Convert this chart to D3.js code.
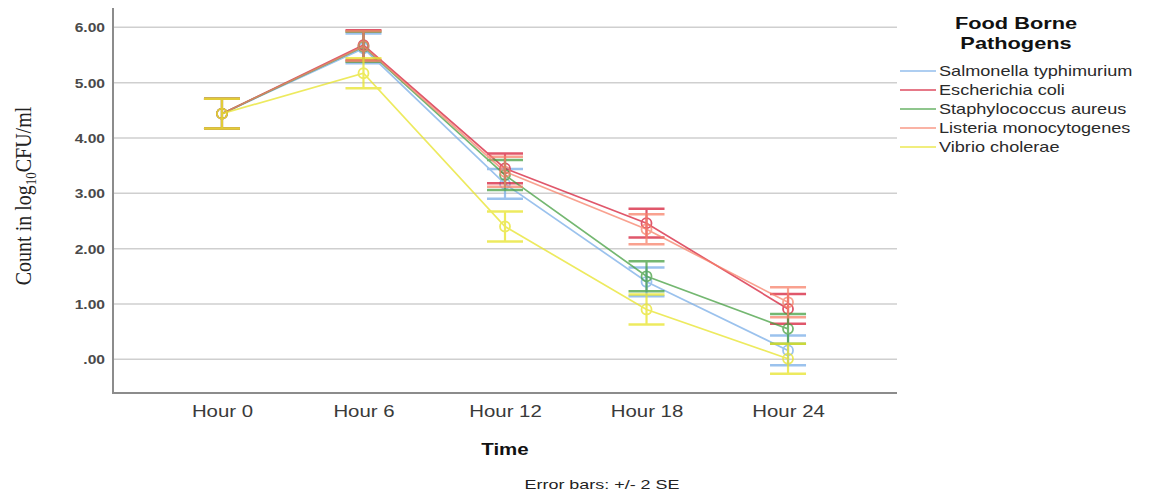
<!DOCTYPE html>
<html>
<head>
<meta charset="utf-8">
<script src="https://cdn.jsdelivr.net/npm/d3@7"></script>
<style>
  html, body { margin: 0; padding: 0; background: #fff; }
  svg { display: block; }
</style>
</head>
<body>
<svg id="chart" width="1152" height="497"></svg>
<script>
// Time points (x categories)
const timepoints = ["Hour 0", "Hour 6", "Hour 12", "Hour 18", "Hour 24"];

// Pathogen names in legend order
const pathogens = [
  "Salmonella typhimurium",
  "Escherichia coli",
  "Staphylococcus aureus",
  "Listeria monocytogenes",
  "Vibrio cholerae"
];

// Mean counts (log10 CFU/ml) per time point
const salmonella = [4.44, 5.62, 3.17, 1.40, 0.16];
const ecoli      = [4.44, 5.68, 3.45, 2.46, 0.91];
const staph      = [4.44, 5.65, 3.33, 1.50, 0.55];
const listeria   = [4.44, 5.66, 3.39, 2.35, 1.03];
const vibrio     = [4.44, 5.17, 2.40, 0.90, 0.01];

// Error bar half-widths (2 SE) per time point
const salmonellaErr = [0.27, 0.27, 0.27, 0.26, 0.27];
const ecoliErr      = [0.27, 0.27, 0.27, 0.26, 0.27];
const staphErr      = [0.27, 0.27, 0.27, 0.27, 0.27];
const listeriaErr   = [0.27, 0.27, 0.27, 0.27, 0.27];
const vibrioErr     = [0.27, 0.27, 0.27, 0.27, 0.27];

// Y axis ticks
const yTicks = [0, 1, 2, 3, 4, 5, 6];
const yTickLabels = [".00", "1.00", "2.00", "3.00", "4.00", "5.00", "6.00"];

const colors = ["#7aaee8", "#d6203a", "#46a042", "#f7826a", "#e8e42a"];

const series = [
  { name: pathogens[0], values: salmonella, err: salmonellaErr, color: colors[0] },
  { name: pathogens[1], values: ecoli,      err: ecoliErr,      color: colors[1] },
  { name: pathogens[2], values: staph,      err: staphErr,      color: colors[2] },
  { name: pathogens[3], values: listeria,   err: listeriaErr,   color: colors[3] },
  { name: pathogens[4], values: vibrio,     err: vibrioErr,     color: colors[4] }
];

const FONT = "Arial, 'Liberation Sans', sans-serif";
const SX = 1.25; // horizontal text stretch

const svg = d3.select("#chart");
const plot = { left: 113, right: 897, top: 8, bottom: 393 };

const x = d3.scalePoint()
  .domain(timepoints)
  .range([plot.left, plot.right])
  .padding(0.77);

const y = d3.scaleLinear()
  .domain([-0.61, 6.35])
  .range([plot.bottom, plot.top]);

// Draw a horizontally stretched text label anchored at (px, py)
function stretchedText(parent, px, py, str, opts) {
  const g = parent.append("g").attr("transform", `translate(${px},${py}) scale(${opts.sx || SX},1)`);
  return g.append("text")
    .attr("text-anchor", opts.anchor || "start")
    .attr("font-family", FONT)
    .attr("font-size", opts.size)
    .attr("font-weight", opts.weight || "normal")
    .attr("fill", opts.fill || "#333")
    .text(str);
}

// Horizontal gridlines
svg.append("g")
  .selectAll("line")
  .data(yTicks)
  .join("line")
  .attr("x1", plot.left)
  .attr("x2", plot.right)
  .attr("y1", d => y(d))
  .attr("y2", d => y(d))
  .attr("stroke", "#cfcfcf")
  .attr("stroke-width", 1.5);

// Y axis tick labels (from the axis generator, stretched)
const yAxis = svg.append("g")
  .attr("transform", `translate(${plot.left},0)`)
  .call(d3.axisLeft(y).tickValues(yTicks).tickSize(0).tickPadding(0)
    .tickFormat((d, i) => yTickLabels[i]));
yAxis.select(".domain").remove();
yAxis.selectAll(".tick text")
  .attr("x", 0)
  .attr("dy", "0.36em")
  .attr("transform", `translate(-8,0) scale(${SX},1)`)
  .attr("font-family", FONT)
  .attr("font-size", 12.5)
  .attr("font-weight", "bold")
  .attr("fill", "#4a4a4a");

// X axis tick labels
const xAxis = svg.append("g")
  .attr("transform", `translate(0,${plot.bottom})`)
  .call(d3.axisBottom(x).tickSize(0).tickPadding(0));
xAxis.select(".domain").remove();
xAxis.selectAll(".tick text")
  .attr("y", 0)
  .attr("dy", 0)
  .attr("transform", `translate(0,24) scale(${1.2},1)`)
  .attr("font-family", FONT)
  .attr("font-size", 17)
  .attr("fill", "#3a3a3a");

// Axis frame lines
svg.append("line")
  .attr("x1", plot.left).attr("x2", plot.left)
  .attr("y1", plot.top).attr("y2", plot.bottom)
  .attr("stroke", "#8c8c8c").attr("stroke-width", 2);
svg.append("line")
  .attr("x1", plot.left - 1).attr("x2", plot.right)
  .attr("y1", plot.bottom).attr("y2", plot.bottom)
  .attr("stroke", "#8c8c8c").attr("stroke-width", 2);

// Series: line, error bars, markers
const line = d3.line()
  .x((d, i) => x(timepoints[i]))
  .y(d => y(d));

const capHalf = 18;
const gSeries = svg.append("g")
  .selectAll("g")
  .data(series)
  .join("g")
  .attr("opacity", 0.75);

gSeries.append("path")
  .attr("d", d => line(d.values))
  .attr("fill", "none")
  .attr("stroke", d => d.color)
  .attr("stroke-width", 1.7);

gSeries.each(function (s) {
  const g = d3.select(this);
  const pts = s.values.map((v, i) => ({ t: timepoints[i], v, e: s.err[i] }));
  const eb = g.append("g").selectAll("g").data(pts).join("g");
  eb.append("line")
    .attr("x1", d => x(d.t)).attr("x2", d => x(d.t))
    .attr("y1", d => y(d.v + d.e)).attr("y2", d => y(d.v - d.e))
    .attr("stroke", s.color).attr("stroke-width", 2.2);
  eb.append("line")
    .attr("x1", d => x(d.t) - capHalf).attr("x2", d => x(d.t) + capHalf)
    .attr("y1", d => y(d.v + d.e)).attr("y2", d => y(d.v + d.e))
    .attr("stroke", s.color).attr("stroke-width", 2.5);
  eb.append("line")
    .attr("x1", d => x(d.t) - capHalf).attr("x2", d => x(d.t) + capHalf)
    .attr("y1", d => y(d.v - d.e)).attr("y2", d => y(d.v - d.e))
    .attr("stroke", s.color).attr("stroke-width", 2.5);
  eb.append("circle")
    .attr("cx", d => x(d.t)).attr("cy", d => y(d.v))
    .attr("r", 5)
    .attr("fill", "none")
    .attr("stroke", s.color)
    .attr("stroke-width", 1.8);
});

// Y axis title (serif, with subscript)
const yTitle = svg.append("g")
  .attr("transform", "translate(31,196) scale(1.2,1) rotate(-90)")
  .append("text")
  .attr("text-anchor", "middle")
  .attr("font-family", "'Liberation Serif', 'Times New Roman', serif")
  .attr("font-size", 20)
  .attr("fill", "#222");
yTitle.append("tspan").text("Count in log");
yTitle.append("tspan").attr("font-size", 13).attr("dy", 4).text("10");
yTitle.append("tspan").attr("dy", -4).text("CFU/ml");

// X axis title and footnote
stretchedText(svg, x("Hour 12"), 455, "Time", { size: 16, weight: "bold", anchor: "middle", fill: "#111", sx: 1.28 });
stretchedText(svg, 602, 489, "Error bars: +/- 2 SE", { size: 13, anchor: "middle", fill: "#222", sx: 1.38 });

// Legend
const legend = svg.append("g");
stretchedText(legend, 1016, 29, "Food Borne", { size: 16.5, weight: "bold", anchor: "middle", fill: "#111", sx: 1.32 });
stretchedText(legend, 1016, 49, "Pathogens", { size: 16.5, weight: "bold", anchor: "middle", fill: "#111", sx: 1.32 });

const legendRow = d3.scaleBand()
  .domain(pathogens)
  .range([61.5, 156.5]);

const items = legend.selectAll("g.item")
  .data(series)
  .join("g")
  .attr("class", "item")
  .attr("transform", d => `translate(0,${legendRow(d.name) + legendRow.bandwidth() / 2})`);
items.append("line")
  .attr("x1", 900).attr("x2", 936)
  .attr("stroke", d => d.color).attr("stroke-width", 1.6)
  .attr("opacity", 0.8);
items.each(function (d) {
  stretchedText(d3.select(this), 939, 5, d.name, { size: 14.5, fill: "#2a2a2a", sx: 1.25 });
});
</script>
</body>
</html>
